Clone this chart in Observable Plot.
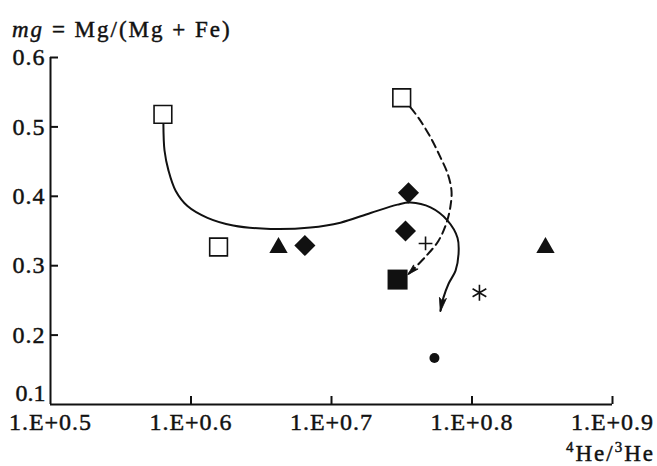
<!DOCTYPE html>
<html><head><meta charset="utf-8">
<script src="https://cdn.jsdelivr.net/npm/d3@7"></script>
<script src="https://cdn.jsdelivr.net/npm/@observablehq/plot@0.6"></script>
<style>
html,body{margin:0;padding:0;background:#fff;}
#chart svg{background:#fff;}
#chart svg text{font-family:"Liberation Serif","Times New Roman",serif !important;stroke:#111;stroke-width:0.45px;}
#chart svg g[aria-label="x-axis tick label"],
#chart svg g[aria-label="y-axis tick label"]{font-size:24px !important;letter-spacing:1px;}
</style></head><body><div id="chart"></div>
<script>
// x: 4He/3He ratio on a log axis; tick values are 10^0.5 ... 10^0.9
const xTicks = [3.1623, 3.9811, 5.0119, 6.3096, 7.9433];
const xTickLabels = ["1.E+0.5", "1.E+0.6", "1.E+0.7", "1.E+0.8", "1.E+0.9"];
const yTicks = [0.1, 0.2, 0.3, 0.4, 0.5, 0.6];
const yTickLabels = ["0.1", "0.2", "0.3", "0.4", "0.5", "0.6"];

// samples
const pointRatio = [3.802, 5.623, 4.165, 4.595, 4.798, 5.686, 5.658, 5.847, 5.585, 6.387, 5.933, 7.117];
const pointMg    = [0.518, 0.542, 0.327, 0.326, 0.329, 0.405, 0.350, 0.332, 0.280, 0.261, 0.167, 0.326];
const pointKind  = ["open square", "open square", "open square", "triangle", "diamond", "diamond",
                    "diamond", "plus", "filled square", "asterisk", "dot", "triangle"];

// solid trend curve
const solidRatio = [3.805, 3.812, 3.837, 3.882, 3.958, 4.090, 4.266, 4.535, 4.842, 5.086, 5.343,
                    5.585, 5.704, 5.895, 6.062, 6.162, 6.172, 6.142, 6.072, 6.021, 5.992];
const solidMg    = [0.505, 0.466, 0.437, 0.408, 0.386, 0.369, 0.358, 0.353, 0.355, 0.362, 0.376,
                    0.388, 0.391, 0.384, 0.365, 0.340, 0.317, 0.293, 0.274, 0.254, 0.235];

// dashed trend curve
const dashedRatio = [5.704, 5.780, 5.895, 5.992, 6.062, 6.101, 6.091, 6.052, 5.973, 5.847, 5.686];
const dashedMg    = [0.528, 0.513, 0.485, 0.456, 0.433, 0.408, 0.386, 0.362, 0.336, 0.313, 0.288];

const yTitleItalic = "mg";
const yTitleRest = " = Mg/(Mg + Fe)";
const xTitleParts = ["4", "He/", "3", "He"];

const points = pointRatio.map((x, i) => ({x, y: pointMg[i], kind: pointKind[i]}));
const solid = solidRatio.map((x, i) => ({x, y: solidMg[i]}));
const dashed = dashedRatio.map((x, i) => ({x, y: dashedMg[i]}));

const kindStyle = {
  "open square":   {symbol: "square",   fill: "white", stroke: "#111", strokeWidth: 1.6, r: 10},
  "filled square": {symbol: "square",   fill: "#111", stroke: "none", r: 11.3},
  "triangle":      {symbol: "triangle", fill: "#111", stroke: "none", r: 6.8},
  "diamond":       {symbol: "diamond2", fill: "#111", stroke: "none", r: 9.5},
  "plus":          {symbol: "plus",     fill: "none", stroke: "#111", strokeWidth: 1.6, r: 4.5},
  "asterisk":      {symbol: "asterisk", fill: "none", stroke: "#111", strokeWidth: 1.6, r: 7.5},
  "dot":           {symbol: "circle",   fill: "#111", stroke: "none", r: 5}
};

const dotMarks = Object.entries(kindStyle).map(([kind, s]) =>
  Plot.dot(points.filter(d => d.kind === kind), {x: "x", y: "y", ...s}));

const W = 657, H = 466, mL = 50, mR = 45, mT = 57, mB = 62, tickLen = 8;

const chart = Plot.plot({
  width: W,
  height: H,
  marginLeft: mL,
  marginRight: mR,
  marginTop: mT,
  marginBottom: mB,
  style: {fontSize: "24px", color: "#111", background: "#fff"},
  x: {type: "log", domain: [xTicks[0], xTicks[xTicks.length - 1]]},
  y: {domain: [yTicks[0], yTicks[yTicks.length - 1]]},
  marks: [
    Plot.ruleX([xTicks[0]], {stroke: "#111", strokeWidth: 2}),
    Plot.ruleY([yTicks[0]], {stroke: "#111", strokeWidth: 2}),
    // inward tick marks
    Plot.tickY(yTicks.slice(1), {y: d => d, stroke: "#111", strokeWidth: 2,
      insetRight: W - mL - mR - tickLen}),
    Plot.tickX(xTicks.slice(1), {x: d => d, stroke: "#111", strokeWidth: 2,
      insetTop: H - mT - mB - tickLen}),
    Plot.axisY({ticks: yTicks, tickSize: 0, tickPadding: 5, fontSize: 24,
      tickFormat: d => d === yTicks[0] ? "" : yTickLabels[yTicks.indexOf(d)], label: null}),
    Plot.text([yTicks[0]], {y: d => d, frameAnchor: "left", dx: -5, dy: -11, textAnchor: "end",
      text: d => yTickLabels[yTicks.indexOf(d)], fontSize: 24, fill: "#111"}),
    Plot.axisX({ticks: xTicks, tickSize: 0, tickPadding: 8, fontSize: 24,
      tickFormat: d => xTickLabels[xTicks.indexOf(d)], label: null}),
    Plot.line(solid, {x: "x", y: "y", curve: "catmull-rom", stroke: "#111", strokeWidth: 2, markerEnd: "arrow"}),
    Plot.line(dashed, {x: "x", y: "y", curve: "catmull-rom", stroke: "#111", strokeWidth: 2,
      strokeDasharray: "8,5", markerEnd: "arrow"}),
    ...dotMarks
  ]
});

const svg = d3.select(chart);
// filled, slender arrowheads
svg.selectAll("marker").each(function(_, i) {
  const m = d3.select(this);
  const big = i === 0;
  m.attr("viewBox", "-14 -6 16 12").attr("markerWidth", 16).attr("markerHeight", 12)
   .attr("markerUnits", "userSpaceOnUse").attr("fill", "#111").attr("stroke", "#111")
   .attr("stroke-width", 0.8).attr("stroke-dasharray", "none");
  m.selectAll("path").attr("d", big ? "M-13,-3.5L1,0L-13,3.5L-10,0Z" : "M-10,-3L1,0L-10,3L-8,0Z")
   .attr("fill", "#111").attr("stroke-dasharray", "none");
});
svg.selectAll('g[aria-label$="tick label"]').style("font-size", "24px");

const yt = svg.append("text").attr("x", 12).attr("y", 37).attr("text-anchor", "start")
  .attr("font-size", 23).style("font-size", "23px").attr("fill", "#111").attr("letter-spacing", 2);
yt.append("tspan").attr("font-style", "italic").text(yTitleItalic);
yt.append("tspan").text(yTitleRest);

const xt = svg.append("text").attr("x", 655).attr("y", 461).attr("text-anchor", "end")
  .attr("font-size", 23).style("font-size", "23px").attr("fill", "#111").attr("letter-spacing", 2);
xt.append("tspan").style("font-size", "15px").attr("dy", -9).text(xTitleParts[0]);
xt.append("tspan").attr("dy", 9).text(xTitleParts[1]);
xt.append("tspan").style("font-size", "15px").attr("dy", -9).text(xTitleParts[2]);
xt.append("tspan").attr("dy", 9).text(xTitleParts[3]);

document.getElementById("chart").appendChild(chart);
</script></body></html>
